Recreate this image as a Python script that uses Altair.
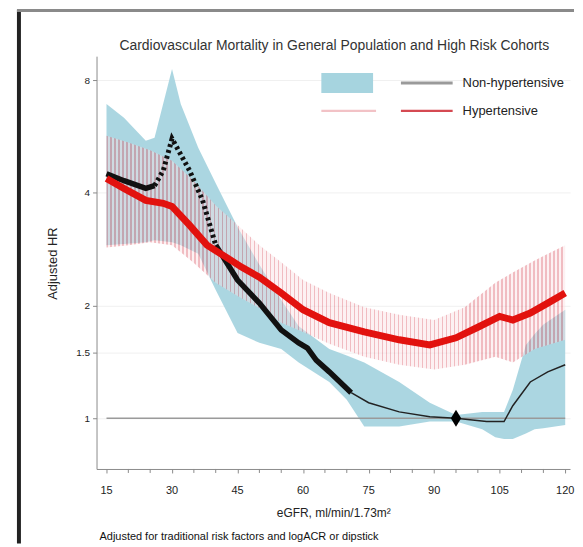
import altair as alt
import pandas as pd

# ---------------- data ----------------
# Non-hypertensive: adjusted HR curve
nh_x = [15, 19, 24, 26, 28, 30, 34, 37, 40, 45, 50, 55, 59, 61, 63, 66, 71,
        75, 82, 89, 95, 102, 106, 108, 112, 116, 120]
nh_hr = [4.50, 4.31, 4.11, 4.18, 4.59, 5.58, 4.59, 3.82, 2.90, 2.34, 2.03, 1.72,
         1.59, 1.54, 1.43, 1.33, 1.17, 1.10, 1.04, 1.01, 1.00, 0.98, 0.98, 1.08,
         1.25, 1.33, 1.39]

# Non-hypertensive 95% CI band
nhci_x = [15, 19, 24, 26, 30, 32, 36, 40, 45, 50, 55, 59, 66, 70, 74, 82, 89,
          95, 101, 104, 106, 108, 111, 113, 115, 120]
nhci_hi = [6.91, 6.35, 5.51, 5.61, 8.56, 6.91, 5.28, 4.24, 3.24, 2.57, 2.07, 1.76,
           1.53, 1.47, 1.41, 1.25, 1.10, 1.02, 1.04, 1.04, 1.04, 1.19, 1.57, 1.68,
           1.78, 1.95]
nhci_lo = [2.90, 2.92, 2.95, 2.99, 2.95, 2.90, 2.75, 2.20, 1.69, 1.59, 1.53, 1.41,
           1.25, 1.12, 0.95, 0.95, 0.98, 0.98, 0.935, 0.89, 0.88, 0.88, 0.91,
           0.935, 0.94, 0.96]

# Hypertensive: adjusted HR curve
h_x = [15, 19, 24, 28, 30, 34, 38, 42, 46, 50, 55, 60, 66, 74, 82, 89, 95, 100,
       105, 108, 112, 116, 120]
h_hr = [4.37, 4.11, 3.82, 3.75, 3.68, 3.28, 2.90, 2.71, 2.53, 2.38, 2.16, 1.95,
        1.80, 1.70, 1.62, 1.57, 1.64, 1.75, 1.87, 1.83, 1.91, 2.03, 2.16]

# Hypertensive 95% CI band
hci_x = [15, 20, 25, 30, 35, 40, 45, 50, 55, 60, 66, 74, 82, 90, 97, 104, 108,
         113, 120]
hci_hi = [5.68, 5.45, 5.20, 4.87, 4.30, 3.70, 3.28, 2.90, 2.61, 2.34, 2.16, 1.98,
          1.89, 1.83, 1.98, 2.30, 2.45, 2.64, 2.90]
hci_lo = [2.86, 2.90, 2.95, 2.90, 2.60, 2.30, 2.12, 1.97, 1.80, 1.70, 1.58, 1.46,
          1.39, 1.35, 1.39, 1.46, 1.41, 1.53, 1.62]

ref_x = [95]          # reference eGFR (diamond)
ref_hr = [1.0]

x_major = [15, 30, 45, 60, 75, 90, 105, 120]
x_labels = ["15", "30", "45", "60", "75", "90", "105", "120"]
x_minor = [v for v in range(15, 121, 5) if v not in x_major]
y_ticks = [1, 1.5, 2, 4, 8]

TITLE = "Cardiovascular Mortality in General Population and High Risk Cohorts"
X_TITLE = "eGFR, ml/min/1.73m\u00b2"
Y_TITLE = "Adjusted HR"
NOTE = "Adjusted for traditional risk factors and logACR or dipstick"
LEG = ["Non-hypertensive", "Hypertensive"]

# ---------------- tables ----------------
nh = pd.DataFrame({"x": nh_x, "hr": nh_hr})
h = pd.DataFrame({"x": h_x, "hr": h_hr})
nhci = pd.DataFrame({"x": nhci_x, "lo": nhci_lo, "hi": nhci_hi})
hci = pd.DataFrame({"x": hci_x, "lo": hci_lo, "hi": hci_hi})
ref = pd.DataFrame({"x": ref_x, "hr": ref_hr})
hline = pd.DataFrame({"x": [min(nh_x)], "x2": [max(nh_x)], "hr": [1.0]})
minor = pd.DataFrame({"x": x_minor})
major = pd.DataFrame({"x": x_major, "lab": x_labels})

seg_a = nh[nh.x <= 26]
seg_b = nh[(nh.x >= 26) & (nh.x <= 40)]
seg_c = nh[(nh.x >= 40) & (nh.x <= 71)]
seg_d = nh[nh.x >= 71]

xs = alt.Scale(domain=[12.72, 121.1], nice=False, zero=False)
ys = alt.Scale(type="log", domain=[0.732, 9.27], nice=False, zero=False)

x_axis = alt.Axis(
    values=x_major, labels=False, title=X_TITLE, grid=False, tickSize=4,
    titleX=238, titleY=44, titleBaseline="middle", titleFontWeight="normal",
    titleFontSize=12)
y_axis = alt.Axis(
    values=y_ticks, format="~g", title=Y_TITLE, grid=True, gridColor="#f0f0f0",
    tickSize=4, labelPadding=3, labelOverlap=False, labelFlush=False,
    titleX=-44, titleY=208, titleAngle=-90,
    titleAlign="center", titleBaseline="middle", titleFontWeight="normal",
    titleFontSize=13, labelFontSize=10)

# pink hatch: vertical stripes via gradient stops (style only)
N = 115
lw = 0.0028
base, line = "#fae0e3", "#df6a76"
stops = []
for i in range(N):
    a = i / N
    stops += [alt.GradientStop(offset=a, color=base),
              alt.GradientStop(offset=a, color=line),
              alt.GradientStop(offset=a + lw, color=line),
              alt.GradientStop(offset=a + lw, color=base)]
stops.append(alt.GradientStop(offset=1, color=base))
hatch = alt.LinearGradient(gradient="linear", stops=stops, x1=0, x2=1, y1=0, y2=0)

blue_band = alt.Chart(nhci).mark_area(color="#a6d4df", opacity=0.95).encode(
    x=alt.X("x:Q", scale=xs, axis=x_axis),
    y=alt.Y("lo:Q", scale=ys, axis=y_axis), y2="hi:Q")
pink_band = alt.Chart(hci).mark_area(color=hatch, opacity=0.45).encode(
    x=alt.X("x:Q", scale=xs), y=alt.Y("lo:Q", scale=ys), y2="hi:Q")
ref_rule = alt.Chart(hline).mark_rule(color="#9a9a9a", strokeWidth=1.5).encode(
    x=alt.X("x:Q", scale=xs), x2="x2:Q", y=alt.Y("hr:Q", scale=ys))
minor_ticks = alt.Chart(minor).mark_rule(color="#8a8a8a", strokeWidth=1).encode(
    x=alt.X("x:Q", scale=xs), y=alt.value(415), y2=alt.value(419))
x_tick_labels = alt.Chart(major).mark_text(
    align="center", baseline="middle", fontSize=11, color="#222222").encode(
    x=alt.X("x:Q", scale=xs), y=alt.value(437), text="lab:N")

thick_a = alt.Chart(seg_a).mark_line(color="#111111", strokeWidth=5.5).encode(
    x=alt.X("x:Q", scale=xs), y=alt.Y("hr:Q", scale=ys))
dotted = alt.Chart(seg_b).mark_line(color="#111111", strokeWidth=5,
                                    strokeDash=[3, 3]).encode(
    x=alt.X("x:Q", scale=xs), y=alt.Y("hr:Q", scale=ys))
thick_c = alt.Chart(seg_c).mark_line(color="#111111", strokeWidth=5.5).encode(
    x=alt.X("x:Q", scale=xs), y=alt.Y("hr:Q", scale=ys))
thin_d = alt.Chart(seg_d).mark_line(color="#222222", strokeWidth=1.5).encode(
    x=alt.X("x:Q", scale=xs), y=alt.Y("hr:Q", scale=ys))
red = alt.Chart(h).mark_line(color="#e2120e", strokeWidth=7).encode(
    x=alt.X("x:Q", scale=xs), y=alt.Y("hr:Q", scale=ys))
diamond = alt.Chart(ref).mark_point(
    shape="M0,-1L0.6,0L0,1L-0.6,0Z", filled=True, color="#000000",
    size=300, opacity=1).encode(x=alt.X("x:Q", scale=xs), y=alt.Y("hr:Q", scale=ys))

one = pd.DataFrame({"k": [0]})
# legend (drawn in pixel space)
leg_blue = alt.Chart(one).mark_rect(color="#a6d4df").encode(
    x=alt.value(226), x2=alt.value(278), y=alt.value(17), y2=alt.value(37))
leg_gray = alt.Chart(one).mark_rule(color="#9a9a9a", strokeWidth=3).encode(
    x=alt.value(306), x2=alt.value(358), y=alt.value(27))
leg_pink = alt.Chart(one).mark_rule(color="#f2c2c6", strokeWidth=2.5).encode(
    x=alt.value(226), x2=alt.value(281), y=alt.value(55))
leg_red = alt.Chart(one).mark_rule(color="#d54a52", strokeWidth=2.5).encode(
    x=alt.value(306), x2=alt.value(358), y=alt.value(55))
leg_txt = alt.Chart(pd.DataFrame({"t": LEG, "py": [27, 55]})).mark_text(
    align="left", baseline="middle", fontSize=13, color="#222222").encode(
    x=alt.value(368), y=alt.Y("py:Q", scale=None), text="t:N")

title = alt.Chart(pd.DataFrame({"t": [TITLE]})).mark_text(
    align="center", baseline="middle", fontSize=14, color="#333333").encode(
    x=alt.value(239), y=alt.value(-10), text="t:N")
note = alt.Chart(pd.DataFrame({"t": [NOTE]})).mark_text(
    align="left", baseline="middle", fontSize=11, color="#111111").encode(
    x=alt.value(3), y=alt.value(483), text="t:N")

# page frame decoration
frame_left = alt.Chart(one).mark_rule(color="#222222", strokeWidth=4).encode(
    x=alt.value(-78), y=alt.value(-47), y2=alt.value(490))
frame_top = alt.Chart(one).mark_rule(color="#8a8a8a", strokeWidth=3).encode(
    x=alt.value(-80), x2=alt.value(480), y=alt.value(-46))

chart = alt.layer(
    blue_band, pink_band, ref_rule, minor_ticks, x_tick_labels, thick_a, dotted,
    thick_c, thin_d, red, diamond, leg_blue, leg_gray, leg_pink, leg_red,
    leg_txt, title, note, frame_left, frame_top,
).properties(
    width=476, height=415,
    autosize=alt.AutoSizeParams(type="none"),
    padding={"left": 89, "top": 47, "right": 5, "bottom": 75},
).configure(font="Liberation Sans").configure_view(stroke=None).configure_axis(
    domainColor="#8a8a8a", tickColor="#8a8a8a", labelColor="#222222",
    titleColor="#222222", labelFont="Liberation Sans", titleFont="Liberation Sans")

chart.save("out.html", embed_options={"renderer": "svg", "actions": False})
